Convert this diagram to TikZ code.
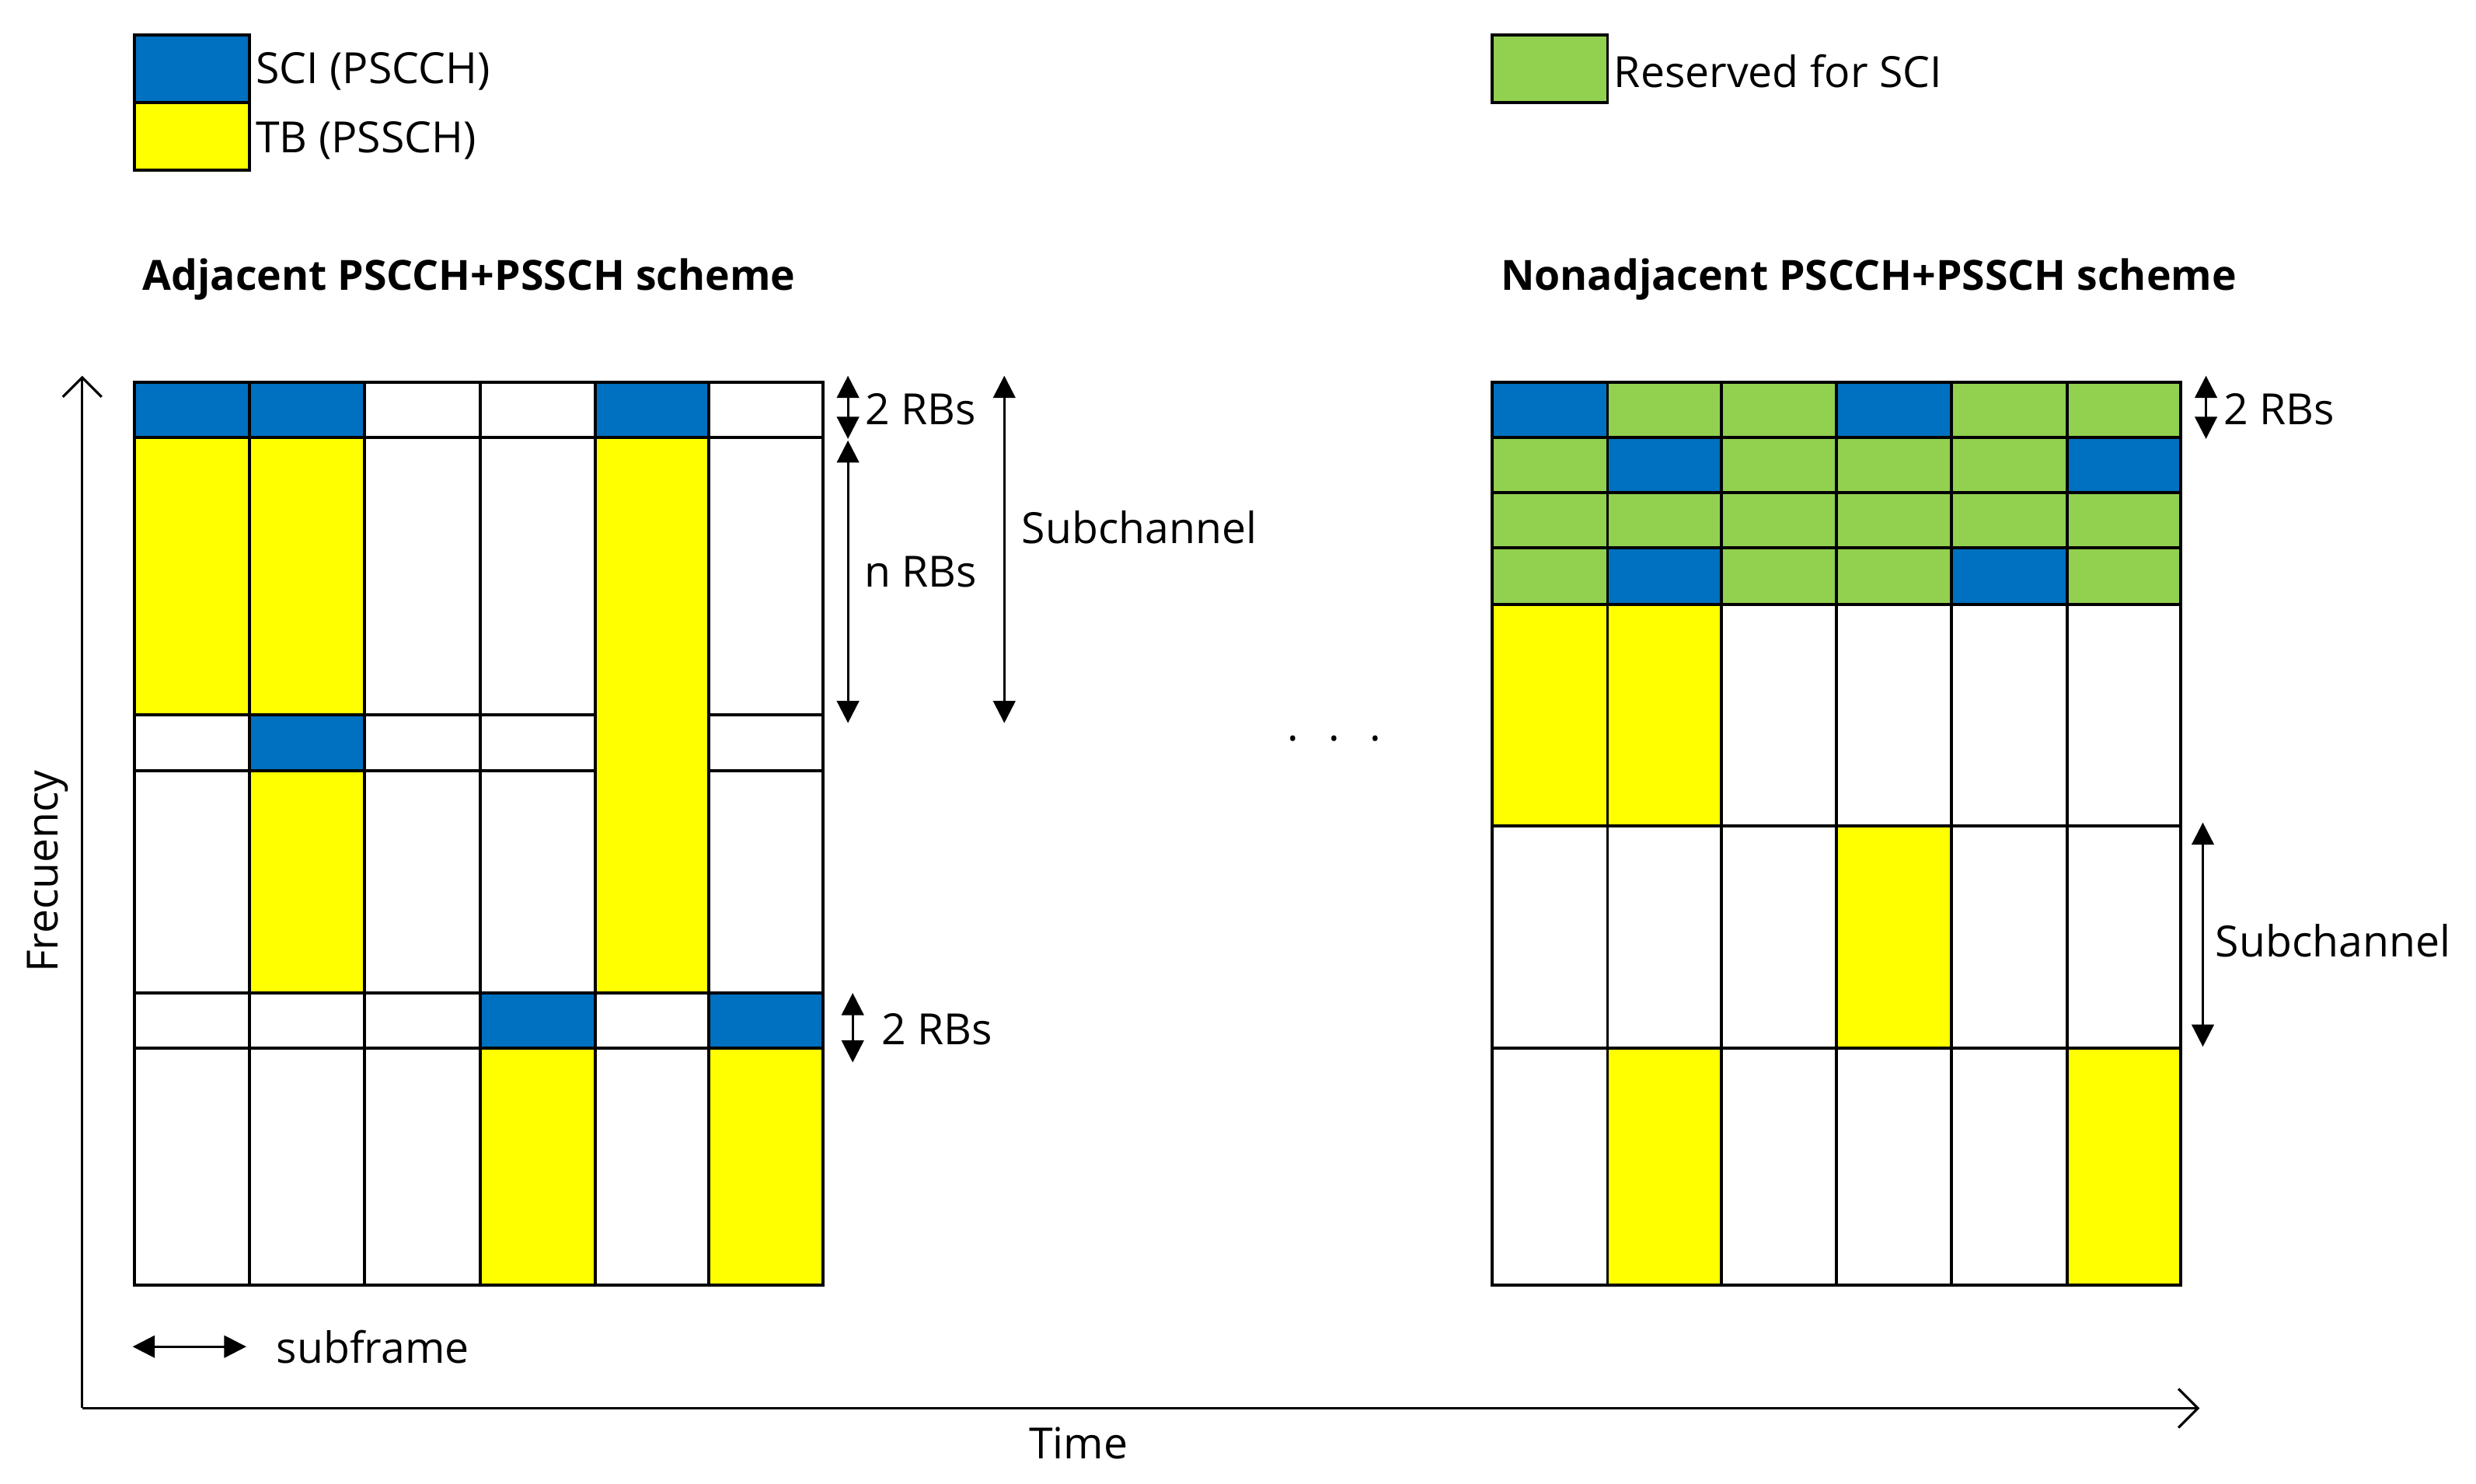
\documentclass[tikz,border=0pt]{standalone}
\usepackage{fontspec}
\setmainfont{Open Sans}
\usetikzlibrary{arrows.meta}
\definecolor{sci}{HTML}{0070C0}
\definecolor{tb}{HTML}{FFFF00}
\definecolor{res}{HTML}{92D050}
\begin{document}
\begin{tikzpicture}[x=0.02cm,y=-0.02cm,
  cell/.style={draw=black,line width=1.1pt},
  lbl/.style={font=\fontsize{15.5}{18}\selectfont,inner sep=1pt},
  ttl/.style={font=\bfseries\fontsize{15}{18}\selectfont,anchor=west,inner sep=0pt},
  dim/.style={line width=0.8pt,{Triangle[length=8pt,width=8pt]}-{Triangle[length=8pt,width=8pt]}}]
\useasboundingbox (0,0) rectangle (1568,940);
% legend
\fill[sci] (85,22) rectangle (158,65); \fill[tb] (85,65) rectangle (158,108);
\draw[cell] (85,22) rectangle (158,65); \draw[cell] (85,65) rectangle (158,108);
\node[lbl,anchor=west] (lsci) at (160,45) {SCI (PSCCH)};
\node[lbl,anchor=west] (ltb) at (160,89) {TB (PSSCH)};
\fill[res] (945,22) rectangle (1018,65); \draw[cell] (945,22) rectangle (1018,65);
\node[lbl,anchor=west] (lres) at (1020,45) {Reserved for SCI};
\node[ttl] (t1) at (90,177) {Adjacent PSCCH+PSSCH scheme};
\node[ttl] (t2) at (950,177) {Nonadjacent PSCCH+PSSCH scheme};
% left grid fills
\fill[sci] (85,242) rectangle (231,277);
\fill[sci] (377,242) rectangle (449,277);
\fill[tb] (85,277) rectangle (231,453);
\fill[tb] (377,277) rectangle (449,629);
\fill[sci] (158,453) rectangle (231,488);
\fill[tb] (158,488) rectangle (231,629);
\fill[sci] (304,629) rectangle (377,664); \fill[sci] (449,629) rectangle (521,664);
\fill[tb] (304,664) rectangle (377,814); \fill[tb] (449,664) rectangle (521,814);
\draw[cell] (85,242) rectangle (521,814);
\foreach \x in {158,231,304,377,449} \draw[cell] (\x,242) -- (\x,814);
\foreach \y in {277,629,664} \draw[cell] (85,\y) -- (521,\y);
\foreach \y in {453,488} {\draw[cell] (85,\y) -- (377,\y); \draw[cell] (449,\y) -- (521,\y);}
% right grid fills
\fill[res] (945,242) rectangle (1381,383);
\fill[sci] (945,242) rectangle (1018,277);
\fill[sci] (1163,242) rectangle (1236,277);
\fill[sci] (1018,277) rectangle (1090,312);
\fill[sci] (1309,277) rectangle (1381,312);
\fill[sci] (1018,347) rectangle (1090,383);
\fill[sci] (1236,347) rectangle (1309,383);
\fill[tb] (945,383) rectangle (1090,523);
\fill[tb] (1163,523) rectangle (1236,664);
\fill[tb] (1018,664) rectangle (1090,814);
\fill[tb] (1309,664) rectangle (1381,814);
\draw[cell] (945,242) rectangle (1381,814);
\foreach \x in {1018,1090,1163,1236,1309} \draw[cell] (\x,242) -- (\x,814);
\foreach \y in {277,312,347,383,523,664} \draw[cell] (945,\y) -- (1381,\y);
% dimension arrows
\coordinate (a1) at (537,238); \coordinate (a2) at (537,278);
\draw[dim] (a1) -- (a2); \node[lbl,anchor=west] (rb1) at (546,259) {2 RBs};
\coordinate (n1) at (537,279); \coordinate (n2) at (537,458);
\draw[dim] (n1) -- (n2); \node[lbl] (nrb) at (583,362) {n RBs};
\coordinate (s1) at (636,238); \coordinate (s2) at (636,458);
\draw[dim] (s1) -- (s2); \node[lbl,anchor=west] (sub1) at (645,334) {Subchannel};
\coordinate (b1) at (540,629); \coordinate (b2) at (540,673);
\draw[dim] (b1) -- (b2); \node[lbl,anchor=west] (rb2) at (556,652) {2 RBs};
\coordinate (c1) at (1397,238); \coordinate (c2) at (1397,278);
\draw[dim] (c1) -- (c2); \node[lbl,anchor=west] (rb3) at (1406,259) {2 RBs};
\coordinate (d1) at (1395,521); \coordinate (d2) at (1395,663);
\draw[dim] (d1) -- (d2); \node[lbl,anchor=west] (sub2) at (1401,596) {Subchannel};
\coordinate (f1) at (84,853); \coordinate (f2) at (156,853);
\draw[dim] (f1) -- (f2); \node[lbl,anchor=west] (sf) at (173,853) {subframe};
% axes
\coordinate (o) at (52,892); \coordinate (ytop) at (52,238); \coordinate (xend) at (1393,892);
\draw[line width=0.9pt,-{Straight Barb[length=7pt,width=14pt]}] (o) -- (ytop);
\draw[line width=0.9pt,-{Straight Barb[length=7pt,width=14pt]}] (o) -- (xend);
\node[lbl,rotate=90] (fq) at (30,552) {Frecuency};
\node[lbl] (tm) at (683,914) {Time};
\node[lbl] (dots) at (845,468) {.\hspace{0.7em}.\hspace{0.7em}.};
\end{tikzpicture}
\end{document}
